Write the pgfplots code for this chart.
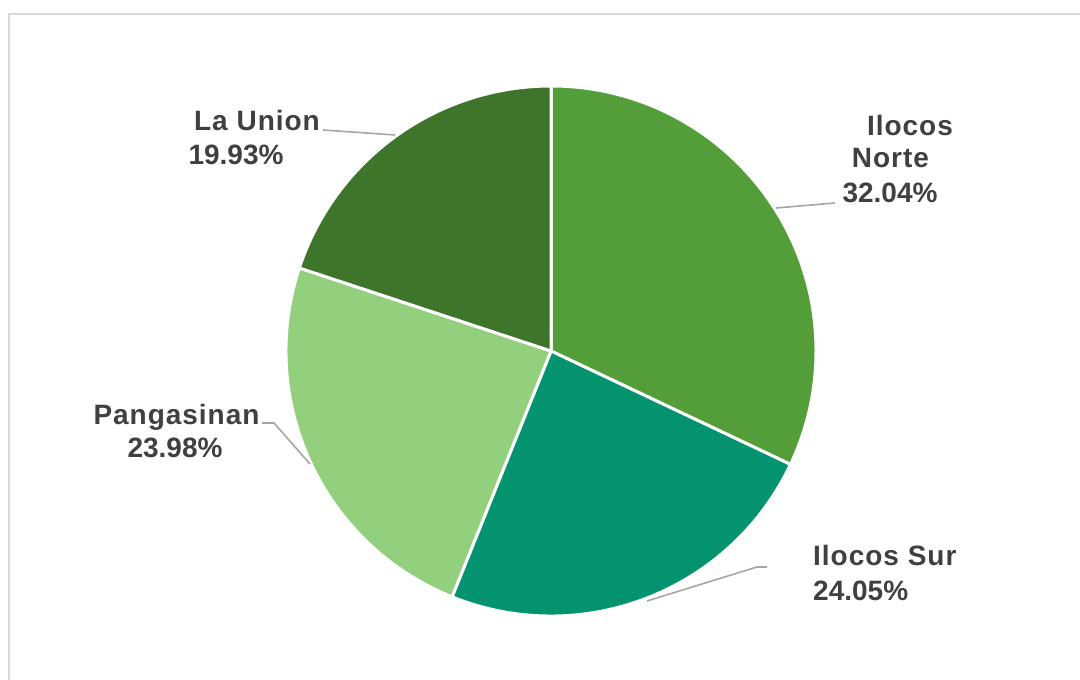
\documentclass[border=0pt]{standalone}
\usepackage{pgfplots}
\usepackage{pgfplotstable}
\pgfplotsset{compat=1.18}
\usepackage{fontspec}
\setmainfont{Liberation Sans}
\newfontfamily\wordfont[LetterSpace=3.5]{Liberation Sans}

\definecolor{norte}{HTML}{549E39}
\definecolor{sur}{HTML}{03936F}
\definecolor{panga}{HTML}{93D07E}
\definecolor{union}{HTML}{3F752B}
\definecolor{lbl}{HTML}{404040}
\definecolor{leader}{HTML}{A6A6A6}
\definecolor{frame}{HTML}{D9D9D9}

% share of each province, clockwise from 12 o'clock
\pgfplotstableread{
region pct col
{Ilocos Norte} 32.04 norte
{Ilocos Sur} 24.05 sur
Pangasinan 23.98 panga
{La Union} 19.93 union
}\piedata

\begin{document}
\begin{tikzpicture}
\begin{axis}[
    name=ax,
    at={(0,0)}, anchor=south west,
    scale only axis,
    width=1080pt, height=680pt,
    xmin=0, xmax=1080, ymin=0, ymax=680,
    hide axis,
    clip=false,
]
% chart frame
\draw[frame, line width=2pt] (9,-20) -- (9,666) -- (1100,666);

% slices
\def\startang{90}
\pgfplotsforeachungrouped \i in {0,...,3}{
    \pgfplotstablegetelem{\i}{pct}\of\piedata \let\p=\pgfplotsretval
    \pgfplotstablegetelem{\i}{col}\of\piedata \let\c=\pgfplotsretval
    \pgfmathsetmacro\endang{\startang-3.6*\p}
    \edef\slice{\noexpand\fill[\c, draw=white, line width=3pt, line join=round]
        (axis cs:551,329) -- +(\startang:265pt)
        arc[start angle=\startang, end angle=\endang, radius=265pt] -- cycle;}
    \slice
    \global\let\startang\endang
}

% leader lines
\draw[leader, line width=1.6pt] (776,472) -- (835,477);
\draw[leader, line width=1.6pt] (323,550) -- (395,545);
\draw[leader, line width=1.6pt] (262,257) -- (274,257) -- (310,216);
\draw[leader, line width=1.6pt] (647,79) -- (757,113) -- (767,113);

% labels
\tikzset{lab/.style={text=lbl, inner sep=0pt, anchor=base,
    font=\bfseries\fontsize{28}{33}\selectfont}}
\node[lab] at (910,544) {\wordfont Ilocos};
\node[lab] at (890.5,512) {\wordfont Norte};
\node[lab] at (890,477) {32.04\%};
\node[lab] at (257,549) {\wordfont La Union};
\node[lab] at (236,515) {19.93\%};
\node[lab] at (176.5,255) {\wordfont Pangasinan};
\node[lab] at (175,222) {23.98\%};
\node[lab, anchor=base west] at (813,114) {\wordfont Ilocos Sur};
\node[lab, anchor=base west] at (813,79) {24.05\%};
\end{axis}
\pgfresetboundingbox
\path[use as bounding box] (ax.south west) rectangle (ax.north east);
\end{tikzpicture}
\end{document}
